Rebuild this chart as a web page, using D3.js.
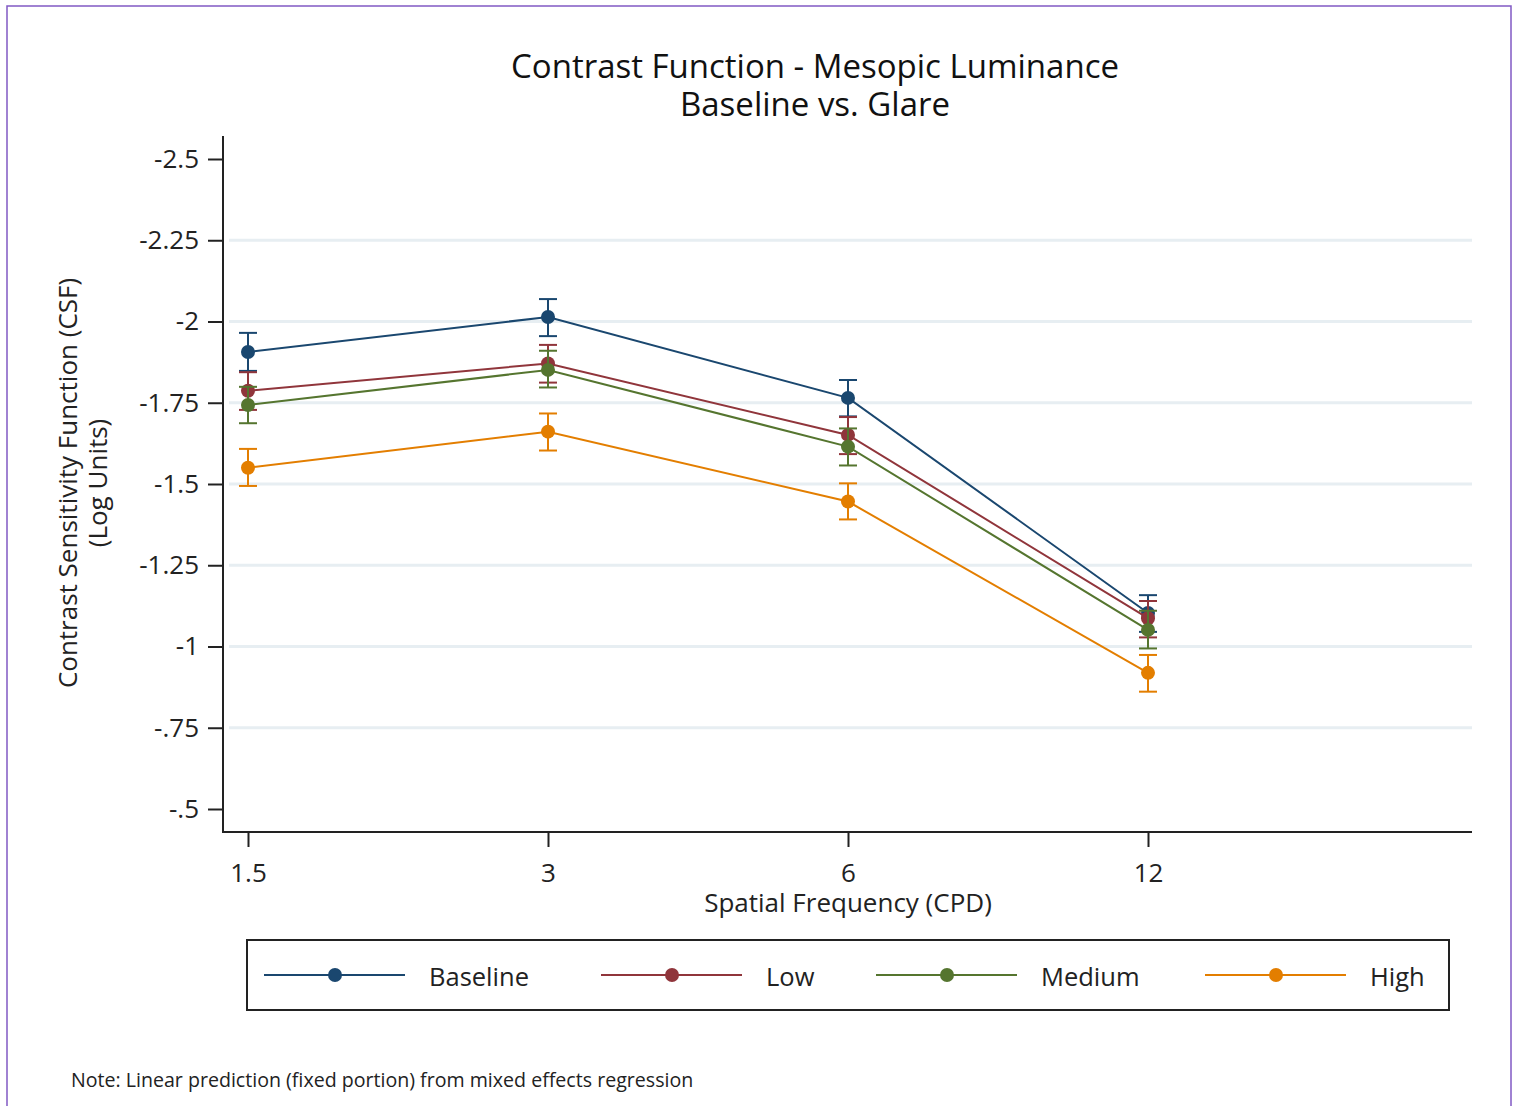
<!DOCTYPE html>
<html>
<head>
<meta charset="utf-8">
<script src="https://cdn.jsdelivr.net/npm/d3@7"></script>
<style>
  body { margin: 0; background: #fff; }
  svg { font-family: "Open Sans", sans-serif; }
</style>
</head>
<body>
<div id="chart"></div>
<script>
// spatial frequencies (CPD)
const freqs = [1.5, 3, 6, 12];
const tickLabels = ["1.5", "3", "6", "12"];
const yTicks = [-2.5, -2.25, -2, -1.75, -1.5, -1.25, -1, -0.75, -0.5];
const yTickLabels = ["-2.5", "-2.25", "-2", "-1.75", "-1.5", "-1.25", "-1", "-.75", "-.5"];

const seriesNames = ["Baseline", "Low", "Medium", "High"];
const colors = ["#1a476f", "#90353b", "#55752f", "#e37e00"];

// predicted CSF and 95% CI per frequency
const baseline = [-1.906, -2.014, -1.765, -1.103];
const baselineLo = [-1.965, -2.069, -1.820, -1.158];
const baselineHi = [-1.848, -1.955, -1.708, -1.045];

const low = [-1.787, -1.871, -1.651, -1.087];
const lowLo = [-1.844, -1.928, -1.706, -1.140];
const lowHi = [-1.728, -1.812, -1.592, -1.028];

const medium = [-1.743, -1.851, -1.615, -1.051];
const mediumLo = [-1.799, -1.910, -1.671, -1.110];
const mediumHi = [-1.687, -1.797, -1.557, -0.994];

const high = [-1.550, -1.661, -1.446, -0.919];
const highLo = [-1.608, -1.717, -1.502, -0.974];
const highHi = [-1.494, -1.603, -1.391, -0.861];

const series = [
  { name: seriesNames[0], color: colors[0], v: baseline, lo: baselineLo, hi: baselineHi },
  { name: seriesNames[1], color: colors[1], v: low, lo: lowLo, hi: lowHi },
  { name: seriesNames[2], color: colors[2], v: medium, lo: mediumLo, hi: mediumHi },
  { name: seriesNames[3], color: colors[3], v: high, lo: highLo, hi: highHi }
];

const width = 1517, height = 1106;

const svg = d3.select("#chart").append("svg")
  .attr("width", width)
  .attr("height", height);

// outer frame
svg.append("rect")
  .attr("x", 7).attr("y", 6)
  .attr("width", 1504).attr("height", 1110)
  .attr("fill", "none")
  .attr("stroke", "#8159c4")
  .attr("stroke-width", 1.5);

const plotL = 223, plotR = 1472, plotT = 136, plotB = 832;

const x = d3.scaleLog().base(2)
  .domain([1.5 * Math.pow(2, -0.0833), 1.5 * Math.pow(2, 4.08)])
  .range([plotL, plotR]);

const y = d3.scaleLinear()
  .domain([-2.5, -0.5])
  .range([159, 809]);

// grid
svg.append("g")
  .selectAll("line")
  .data(yTicks.slice(1, -1))
  .join("line")
  .attr("x1", plotL + 6).attr("x2", plotR)
  .attr("y1", d => y(d)).attr("y2", d => y(d))
  .attr("stroke", "#e7eef2")
  .attr("stroke-width", 3);

// axes
const yAxis = svg.append("g")
  .attr("transform", `translate(${plotL},0)`)
  .call(d3.axisLeft(y).tickValues(yTicks).tickFormat((d, i) => yTickLabels[i]).tickSize(15).tickPadding(9));
const xAxis = svg.append("g")
  .attr("transform", `translate(0,${plotB})`)
  .call(d3.axisBottom(x).tickValues(freqs).tickFormat((d, i) => tickLabels[i]).tickSize(15).tickPadding(17));

[yAxis, xAxis].forEach(a => {
  a.select(".domain").remove();
  a.selectAll(".tick line").attr("stroke", "#222").attr("stroke-width", 2);
  a.selectAll(".tick text").attr("font-size", 26).attr("fill", "#222").attr("font-family", "Open Sans");
});

svg.append("line")
  .attr("x1", plotL).attr("x2", plotL)
  .attr("y1", plotT).attr("y2", plotB + 1)
  .attr("stroke", "#222").attr("stroke-width", 2);
svg.append("line")
  .attr("x1", plotL - 1).attr("x2", plotR)
  .attr("y1", plotB).attr("y2", plotB)
  .attr("stroke", "#222").attr("stroke-width", 2);

// series
const line = d3.line()
  .x((d, i) => x(freqs[i]))
  .y(d => y(d));

series.forEach(s => {
  const g = svg.append("g");
  g.append("path")
    .attr("d", line(s.v))
    .attr("fill", "none")
    .attr("stroke", s.color)
    .attr("stroke-width", 2);
  freqs.forEach((f, i) => {
    const cx = x(f);
    g.append("line")
      .attr("x1", cx).attr("x2", cx)
      .attr("y1", y(s.lo[i])).attr("y2", y(s.hi[i]))
      .attr("stroke", s.color).attr("stroke-width", 2);
    [s.lo[i], s.hi[i]].forEach(e => {
      g.append("line")
        .attr("x1", cx - 9).attr("x2", cx + 9)
        .attr("y1", y(e)).attr("y2", y(e))
        .attr("stroke", s.color).attr("stroke-width", 2);
    });
  });
  g.selectAll("circle")
    .data(s.v)
    .join("circle")
    .attr("cx", (d, i) => x(freqs[i]))
    .attr("cy", d => y(d))
    .attr("r", 7)
    .attr("fill", s.color);
});

// titles
svg.append("text")
  .attr("x", 815).attr("y", 78)
  .attr("text-anchor", "middle")
  .attr("font-size", 33)
  .attr("fill", "#111")
  .text("Contrast Function - Mesopic Luminance");
svg.append("text")
  .attr("x", 815).attr("y", 116)
  .attr("text-anchor", "middle")
  .attr("font-size", 33)
  .attr("fill", "#111")
  .text("Baseline vs. Glare");

svg.append("text")
  .attr("x", 848).attr("y", 912)
  .attr("text-anchor", "middle")
  .attr("font-size", 26)
  .attr("fill", "#222")
  .text("Spatial Frequency (CPD)");

const yt = svg.append("text")
  .attr("transform", "translate(0,483) rotate(-90)")
  .attr("text-anchor", "middle")
  .attr("font-size", 26)
  .attr("fill", "#222");
yt.append("tspan").attr("x", 0).attr("y", 77).text("Contrast Sensitivity Function (CSF)");
yt.append("tspan").attr("x", 0).attr("y", 107).text("(Log Units)");

// legend
svg.append("rect")
  .attr("x", 247).attr("y", 940)
  .attr("width", 1202).attr("height", 70)
  .attr("fill", "#fff")
  .attr("stroke", "#222")
  .attr("stroke-width", 2);

const legendX = [264, 601, 876, 1205];
series.forEach((s, i) => {
  const lx = legendX[i];
  svg.append("line")
    .attr("x1", lx).attr("x2", lx + 141)
    .attr("y1", 975).attr("y2", 975)
    .attr("stroke", s.color).attr("stroke-width", 2);
  svg.append("circle")
    .attr("cx", lx + 71).attr("cy", 975).attr("r", 7)
    .attr("fill", s.color);
  svg.append("text")
    .attr("x", lx + 165).attr("y", 986)
    .attr("font-size", 25.5)
    .attr("fill", "#222")
    .text(s.name);
});

svg.append("text")
  .attr("x", 71).attr("y", 1087)
  .attr("font-size", 19.6)
  .attr("fill", "#222")
  .text("Note: Linear prediction (fixed portion) from mixed effects regression");
</script>
</body>
</html>
